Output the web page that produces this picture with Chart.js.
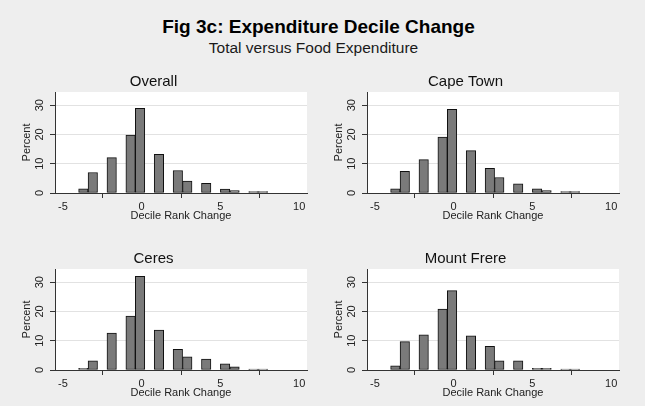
<!DOCTYPE html>
<html>
<head>
<meta charset="utf-8">
<script src="https://cdn.jsdelivr.net/npm/chart.js@4.4.1/dist/chart.umd.min.js"></script>
<style>
    html, body { margin: 0; padding: 0; background: #eeeeee; overflow: hidden; }
    body { width: 645px; height: 406px; position: relative; font-family: "Liberation Sans", Arial, sans-serif; }
    #title { position: absolute; left: -4px; width: 645px; top: 17px; text-align: center; font-size: 19px; font-weight: bold; line-height: 19px; color: #000; }
    #subtitle { position: absolute; left: -9px; width: 645px; top: 40px; text-align: center; font-size: 15.5px; line-height: 15.5px; color: #1a1a1a; }
    canvas { position: absolute; }
</style>
</head>
<body>
<div id="title">Fig 3c: Expenditure Decile Change</div>
<div id="subtitle">Total versus Food Expenditure</div>
<canvas id="c1" width="315" height="164" style="left:0px;top:65px"></canvas>
<canvas id="c2" width="315" height="164" style="left:312px;top:65px"></canvas>
<canvas id="c3" width="315" height="164" style="left:0px;top:242px"></canvas>
<canvas id="c4" width="315" height="164" style="left:312px;top:242px"></canvas>
<script>
// Centri dei bin (larghezza 0.6, da -4 a 8)
const binCenters = [-3.7, -3.1, -1.9, -0.7, -0.1, 1.1, 2.3, 2.9, 4.1, 5.3, 5.9, 7.1, 7.7];

// Percentuali
const overall = [1.4, 7.0, 12.1, 19.8, 28.9, 13.2, 7.7, 4.1, 3.3, 1.3, 0.8, 0.5, 0.5];
const capeTown = [1.4, 7.4, 11.4, 19.1, 28.6, 14.5, 8.4, 5.3, 3.1, 1.4, 0.8, 0.5, 0.5];
const ceres = [0.6, 3.1, 12.6, 18.4, 32.0, 13.6, 7.1, 4.5, 3.7, 2.1, 1.1, 0.3, 0.3];
const mountFrere = [1.4, 9.7, 12.0, 20.8, 27.1, 11.7, 8.1, 3.1, 3.1, 0.6, 0.6, 0.3, 0.3];

const panelTitles = ['Overall', 'Cape Town', 'Ceres', 'Mount Frere'];
const xTicks = [-5, 0, 5, 10];
const yTicks = [0, 10, 20, 30];

Chart.defaults.font.family = '"Liberation Sans", Arial, sans-serif';
Chart.defaults.color = '#222';

// Sfondo bianco dell'area del grafico
const plotBg = {
    id: 'plotBg',
    beforeDraw(chart) {
        const { ctx, chartArea: a } = chart;
        ctx.save();
        ctx.fillStyle = '#ffffff';
        ctx.fillRect(a.left, a.top, a.right - a.left, a.bottom - a.top);
        ctx.restore();
    }
};

function renderPanel(id, title, values) {
    return new Chart(document.getElementById(id), {
        type: 'bar',
        data: {
            datasets: [{
                data: binCenters.map((x, i) => ({ x: x, y: values[i] })),
                backgroundColor: '#7a7a7a',
                borderColor: '#111111',
                borderWidth: 1,
                borderSkipped: false,
                barPercentage: 1,
                categoryPercentage: 1
            }]
        },
        options: {
            responsive: false,
            animation: false,
            devicePixelRatio: 1,
            layout: { padding: { left: 0, right: 8, top: 0, bottom: 0 } },
            plugins: {
                legend: { display: false },
                tooltip: { enabled: false },
                title: {
                    display: true,
                    text: title,
                    color: '#111',
                    font: { size: 15, weight: 'normal' },
                    padding: { top: 7.5, bottom: 1.5 }
                }
            },
            scales: {
                x: {
                    type: 'linear',
                    min: -5.5,
                    max: 10.5,
                    offset: false,
                    afterBuildTicks: s => { s.ticks = xTicks.map(v => ({ value: v })); },
                    afterFit: s => { s.height = 36; },
                    grid: { drawOnChartArea: false, tickLength: 5, tickColor: '#333' },
                    border: { color: '#333' },
                    ticks: { font: { size: 11 }, padding: 2, color: '#222', maxRotation: 0, autoSkip: false },
                    title: { display: true, text: 'Decile Rank Change', font: { size: 11 }, color: '#222', padding: { top: 0, bottom: 6.4 } }
                },
                y: {
                    min: 0,
                    max: 34.5,
                    afterBuildTicks: s => { s.ticks = yTicks.map(v => ({ value: v })); },
                    afterFit: s => { s.width = 55; },
                    grid: {
                        color: c => (c.tick && c.tick.value === 0) ? 'rgba(0,0,0,0)' : '#e2e2e2',
                        tickLength: 5,
                        tickColor: '#333'
                    },
                    border: { color: '#333' },
                    ticks: { font: { size: 11 }, padding: 4, color: '#222', minRotation: 90, maxRotation: 90, crossAlign: 'center' },
                    title: { display: true, text: 'Percent', font: { size: 11 }, color: '#222', padding: { top: 20.4, bottom: 0 } }
                }
            }
        },
        plugins: [plotBg]
    });
}

renderPanel('c1', panelTitles[0], overall);
renderPanel('c2', panelTitles[1], capeTown);
renderPanel('c3', panelTitles[2], ceres);
renderPanel('c4', panelTitles[3], mountFrere);
</script>
</body>
</html>
